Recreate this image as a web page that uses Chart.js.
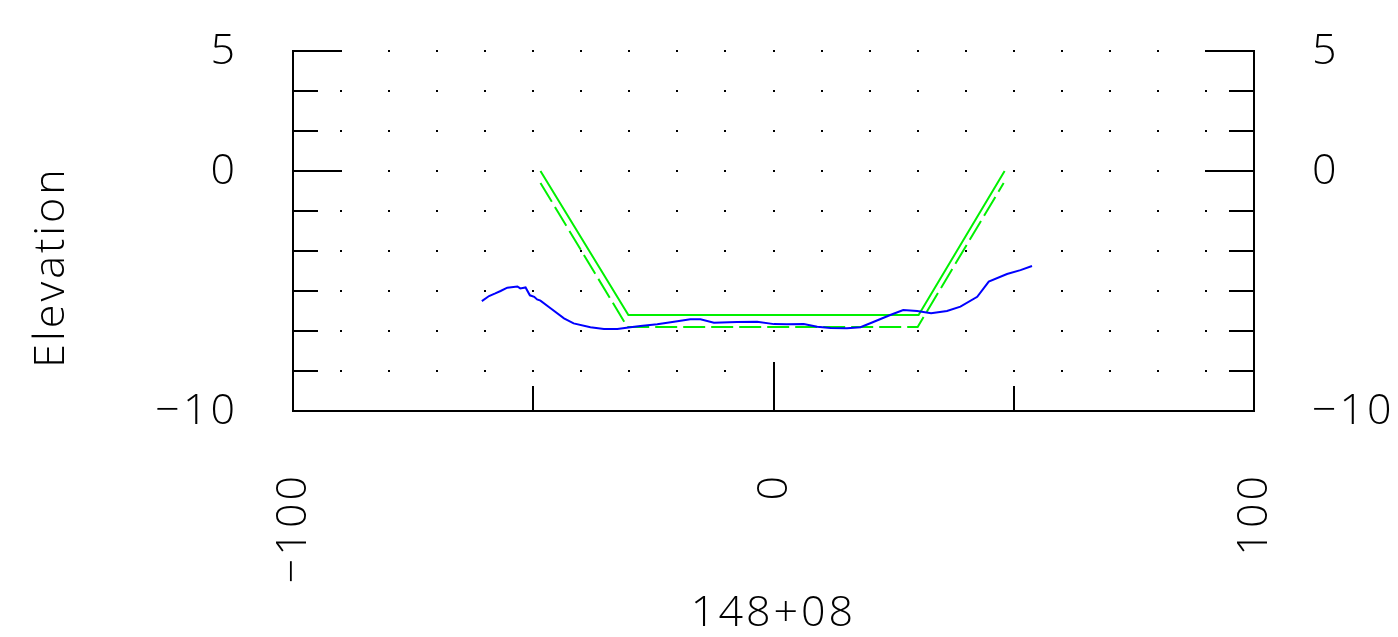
<!DOCTYPE html>
<html>
<head>
<meta charset="utf-8">
<script src="https://cdn.jsdelivr.net/npm/chart.js@4"></script>
<style>
    html, body { margin: 0; padding: 0; background: #fff; }
    #wrap { width: 1398px; height: 637px; }
</style>
</head>
<body>
<div id="wrap"><canvas id="chart" width="1398" height="637"></canvas></div>
<script>
// ground profile (blue)
const groundX = [-60.7, -59.2, -57.9, -56.8, -55.4, -53.3, -52.7, -51.6, -50.7, -49.8, -49.2, -48.5, -46.4, -43.6, -41.6, -38.1, -35.3, -32.5, -29.8, -27.7, -24.2, -20.7, -17.3, -15.2, -12.4, -7.6, -3.4, 0.1, 2.8, 6.3, 9.1, 11.9, 15.3, 18.1, 20.9, 24.3, 27.0, 29.9, 32.8, 36.1, 38.9, 42.4, 44.8, 48.6, 51.4, 53.8];
const groundY = [-5.42, -5.21, -5.10, -5.00, -4.86, -4.81, -4.89, -4.85, -5.18, -5.24, -5.35, -5.40, -5.72, -6.14, -6.35, -6.51, -6.58, -6.58, -6.51, -6.46, -6.39, -6.28, -6.18, -6.18, -6.32, -6.29, -6.28, -6.38, -6.39, -6.38, -6.49, -6.54, -6.55, -6.51, -6.28, -6.00, -5.79, -5.83, -5.93, -5.83, -5.65, -5.24, -4.61, -4.29, -4.13, -3.96];

// design section (green solid) and subgrade (green dashed)
const designX = [-48.5, -30.2, 30.2, 48.1];
const designY = [0, -6, -6, 0];
const subgradeX = [-48.5, -30.4, 30.0, 47.9];
const subgradeY = [-0.5, -6.5, -6.5, -0.5];

// axes
const xTickLabels = [-100, 0, 100];
const xMinorTicks = [-50, 50];
const yTickLabels = [5, 0, -10];
const yStep = 5 / 3;
const xDotStep = 10;
const xTitle = '148+08';
const yTitle = 'Elevation';

const toPoints = (xs, ys) => xs.map((x, i) => ({ x, y: ys[i] }));
const fmt = v => String(v).replace('-', '\u2212');
const FONT = '300 43px "Open Sans", "DejaVu Sans", sans-serif';

const framePlugin = {
    id: 'frame',
    beforeDatasetsDraw(chart) {
        const { ctx, scales: { x, y } } = chart;
        ctx.save();
        ctx.fillStyle = '#000';
        // dotted grid
        for (let xv = -100 + xDotStep; xv < 100; xv += xDotStep) {
            for (let yv = 5; yv > -10 + 0.01; yv -= yStep) {
                const px = Math.round(x.getPixelForValue(xv));
                const py = Math.round(y.getPixelForValue(yv));
                ctx.fillRect(px - 1, py - 1, 2, 2);
            }
        }
        ctx.restore();
    },
    afterDraw(chart) {
        const { ctx, chartArea: a, scales: { x, y } } = chart;
        ctx.save();
        ctx.strokeStyle = '#000';
        ctx.lineWidth = 2;
        ctx.lineCap = 'square';
        ctx.beginPath();
        // left, bottom, right lines
        ctx.moveTo(a.left, a.top);
        ctx.lineTo(a.left, a.bottom);
        ctx.lineTo(a.right, a.bottom);
        ctx.lineTo(a.right, a.top);
        // y ticks, pointing inward on both sides
        for (let yv = 5; yv > -10 + 0.01; yv -= yStep) {
            const py = Math.round(y.getPixelForValue(yv));
            const major = yTickLabels.some(v => Math.abs(v - yv) < 0.01);
            const len = major ? 48 : 24;
            ctx.moveTo(a.left, py);
            ctx.lineTo(a.left + len, py);
            ctx.moveTo(a.right, py);
            ctx.lineTo(a.right - len, py);
        }
        // x ticks, pointing up
        xTickLabels.concat(xMinorTicks).forEach(xv => {
            const px = Math.round(x.getPixelForValue(xv));
            const len = xTickLabels.includes(xv) ? 48 : 24;
            ctx.moveTo(px, a.bottom);
            ctx.lineTo(px, a.bottom - len);
        });
        ctx.stroke();

        ctx.fillStyle = '#000';
        ctx.font = FONT;
        ctx.letterSpacing = '3px';
        ctx.textBaseline = 'middle';
        // y labels on both sides
        yTickLabels.forEach(v => {
            const py = y.getPixelForValue(v);
            ctx.textAlign = 'right';
            ctx.fillText(fmt(v), a.left - 55, py + 1);
            ctx.textAlign = 'left';
            ctx.fillText(fmt(v), a.right + 58, py + 1);
        });
        // x labels, rotated
        xTickLabels.forEach(v => {
            const px = x.getPixelForValue(v);
            ctx.save();
            ctx.translate(px + 1, a.bottom + 62);
            ctx.rotate(-Math.PI / 2);
            ctx.textAlign = 'right';
            ctx.fillText(fmt(v), 0, 0);
            ctx.restore();
        });
        // titles
        ctx.textAlign = 'center';
        ctx.fillText(xTitle, (a.left + a.right) / 2, 614);
        ctx.save();
        ctx.translate(52, 267);
        ctx.rotate(-Math.PI / 2);
        ctx.fillText(yTitle, 0, 0);
        ctx.restore();
        ctx.restore();
    }
};

const ctx = document.getElementById('chart').getContext('2d');
const chart = new Chart(ctx, {
    type: 'scatter',
    data: {
        datasets: [
            {
                data: toPoints(groundX, groundY),
                borderColor: '#0000ff',
            },
            {
                data: toPoints(designX, designY),
                borderColor: '#00f000',
            },
            {
                data: toPoints(subgradeX, subgradeY),
                borderColor: '#00f000',
                borderDash: [22, 6],
            }
        ]
    },
    options: {
        responsive: false,
        animation: false,
        layout: {
            padding: { left: 293, right: 144, top: 51, bottom: 226 }
        },
        datasets: {
            scatter: {
                showLine: true,
                pointRadius: 0,
                borderWidth: 2,
                tension: 0,
            }
        },
        plugins: {
            legend: { display: false },
            tooltip: { enabled: false }
        },
        scales: {
            x: { type: 'linear', min: -100, max: 100, display: false },
            y: { type: 'linear', min: -10, max: 5, display: false }
        }
    },
    plugins: [framePlugin]
});
</script>
</body>
</html>
